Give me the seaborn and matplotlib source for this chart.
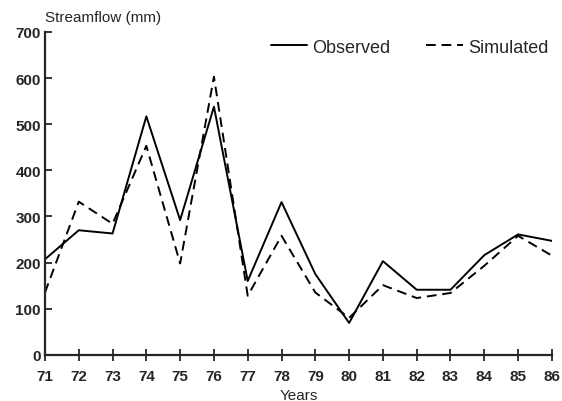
import pandas as pd
import numpy as np
import matplotlib.pyplot as plt
import seaborn as sns

# data
years = list(range(71, 87))
observed = [207, 270, 263, 517, 292, 538, 160, 331, 175, 69, 203, 141, 141, 216, 261, 247]
simulated = [135, 332, 284, 453, 198, 603, 128, 258, 135, 80, 151, 123, 134, 193, 258, 215]
year_labels = [str(y) for y in years]
y_ticks = [0, 100, 200, 300, 400, 500, 600, 700]

df = pd.DataFrame({
    "Year": years * 2,
    "Streamflow": observed + simulated,
    "Series": ["Observed"] * len(years) + ["Simulated"] * len(years),
})

sns.set_style("ticks")
plt.rcParams['font.family'] = ['Liberation Sans', 'DejaVu Sans']

fig = plt.figure(figsize=(5.62, 4.02), dpi=100)
ax = fig.add_axes([0.080, 0.115, 0.902, 0.803])

sns.lineplot(data=df, x="Year", y="Streamflow", style="Series",
             dashes={"Observed": "", "Simulated": (5, 3)},
             color="black", linewidth=1.4, ax=ax)

ax.set_xlim(71, 86)
ax.set_ylim(0, 700)
ax.set_xticks(years)
ax.set_xticklabels(year_labels)
ax.set_yticks(y_ticks)
sns.despine(ax=ax)
ax.spines["left"].set_linewidth(1.6)
ax.spines["bottom"].set_linewidth(1.6)
ax.tick_params(axis="x", direction="inout", length=8, width=1.3, labelsize=11, pad=6)
ax.tick_params(axis="y", direction="in", length=5, width=1.3, labelsize=11, pad=3)
for lbl in ax.get_xticklabels() + ax.get_yticklabels():
    lbl.set_fontweight("bold")

ax.set_xlabel("Years", fontsize=11, labelpad=4)
ax.set_ylabel("")
fig.text(0.080, 0.955, "Streamflow (mm)", fontsize=11, ha="left", va="center")

handles = ax.get_legend().legend_handles
ax.legend(handles=handles, labels=["Observed", "Simulated"], loc="upper right", ncol=2,
          frameon=False, fontsize=13, handlelength=2.0, columnspacing=2.0,
          handletextpad=0.3, bbox_to_anchor=(1.025, 1.03))

fig.savefig("out.png", dpi=100)
